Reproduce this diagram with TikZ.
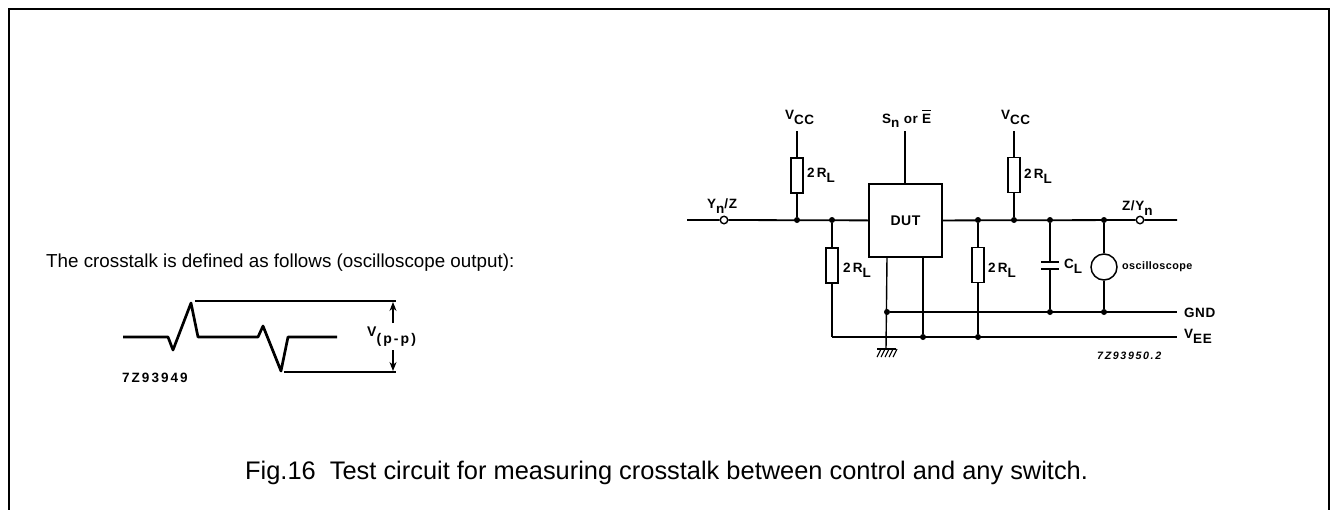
\documentclass[tikz,border=0pt]{standalone}
\usepackage{fontspec}
\setmainfont{Liberation Sans}
\newfontfamily\wide[LetterSpace=4]{Liberation Sans}
\newfontfamily\wider[LetterSpace=15]{Liberation Sans}
\usetikzlibrary{arrows.meta}
\newcommand{\lo}[1]{\raisebox{-5pt}{#1}}
\tikzset{
  x=1pt,y=-1pt,
  wire/.style={line width=1.5pt,black},
  thin wire/.style={line width=1.4pt,black},
  res/.style={draw,line width=1.4pt,fill=white,minimum width=12pt,minimum height=35pt,inner sep=0pt,outer sep=0pt},
  dut/.style={draw,line width=2pt,minimum width=73pt,minimum height=73pt,inner sep=0pt,outer sep=0pt},
  dot/.style={circle,fill=black,inner sep=0pt,minimum size=6pt},
  open/.style={circle,draw,line width=1.4pt,fill=white,inner sep=0pt,minimum size=7.5pt},
  scope/.style={circle,draw,line width=1.5pt,fill=white,inner sep=0pt,minimum size=26pt},
  lab/.style={inner sep=0pt,anchor=base west,font=\fontsize{13.5}{15}\wide\bfseries},
  rail/.style={line width=1.8pt,black},
  wave/.style={line width=2.7pt,black,line join=round},
  tip/.style={-{Stealth[length=9pt,width=7pt]},line width=1.2pt},
}
\begin{document}
\begin{tikzpicture}
\useasboundingbox (0,0) rectangle (1330,509);
\draw[line width=2pt] (9,510) -- (9,9) -- (1329,9) -- (1329,510);
% left text
\node[anchor=base west,inner sep=0pt,font=\fontsize{18.8}{22}\selectfont] (deftxt) at (46,267) {The crosstalk is defined as follows (oscilloscope output):};
\node[anchor=base west,inner sep=0pt,font=\fontsize{25.4}{30}\selectfont] (cap) at (245,479) {Fig.16\ \ Test circuit for measuring crosstalk between control and any switch.};
% waveform
\coordinate (w0) at (123,337); \coordinate (w1) at (168,337); \coordinate (w2) at (173,350);
\coordinate (w3) at (191,303); \coordinate (w4) at (198,337); \coordinate (w5) at (258,337);
\coordinate (w6) at (263,326); \coordinate (w7) at (281,371); \coordinate (w8) at (288,337);
\coordinate (w9) at (337,337);
\draw[wave] (w0)--(w1)--(w2)--(w3)--(w4)--(w5)--(w6)--(w7)--(w8)--(w9);
\coordinate (ta) at (195,301); \coordinate (tb) at (396,301);
\coordinate (ba) at (284,372); \coordinate (bb) at (396,372);
\draw[rail] (ta)--(tb);
\draw[rail] (ba)--(bb);
\coordinate (at) at (393,323); \coordinate (ah) at (393,302);
\coordinate (bt) at (393,350); \coordinate (bh) at (393,371);
\draw[tip] (at)--(ah);
\draw[tip] (bt)--(bh);
\node[lab,font=\fontsize{14}{16}\wider\bfseries] (vpp) at (367,336) {V\raisebox{-7pt}{(p-p)}};
\node[lab,font=\fontsize{13.5}{15}\wider\bfseries] (code1) at (122,382) {7Z93949};
% circuit
\coordinate (inL) at (687,220);
\node[open] (inO) at (724,220) {};
\node[dot] (j1) at (797,220) {};
\node[dot] (j2) at (832,220) {};
\node[dut] (D) at (905.5,220.5) {\fontsize{14}{16}\wide\bfseries DUT};
\node[dot] (j3) at (978,220) {};
\node[dot] (j4) at (1014,220) {};
\node[dot] (j5) at (1050,220) {};
\node[dot] (j6) at (1104,220) {};
\node[open] (outO) at (1140,220) {};
\coordinate (outR) at (1177,220);
\node[res] (R1) at (797,175.5) {};
\node[res] (R2) at (832,265.5) {};
\node[res] (R3) at (978,265) {};
\node[res] (R4) at (1014,175) {};
\coordinate (v1) at (797,131);
\coordinate (v2) at (1014,131);
\coordinate (sT) at (905,131);
\coordinate (c1) at (1050,262); \coordinate (c1a) at (1041,262); \coordinate (c1b) at (1059,262);
\coordinate (c2) at (1050,269); \coordinate (c2a) at (1041,269); \coordinate (c2b) at (1059,269);
\node[scope] (S) at (1104,267) {};
% rails
\node[dot] (g1) at (887,312) {};
\node[dot] (g2) at (1050,312) {};
\node[dot] (g3) at (1104,312) {};
\coordinate (gR) at (1177,312);
\coordinate (eL) at (832,337);
\node[dot] (e1) at (923,337) {};
\node[dot] (e2) at (978,337) {};
\coordinate (eR) at (1177,337);
\coordinate (gnd) at (886,349);
\draw[rail] (inL)--(inO) (inO)--(D) (D)--(outO) (outO)--(outR);
\draw[rail] (g1)--(gR);
\draw[rail] (eL)--(eR);
\draw[thin wire] (v1)--(R1.north) (R1.south)--(j1);
\draw[thin wire] (v2)--(R4.north) (R4.south)--(j4);
\draw[thin wire] (sT)--(sT|-D.north);
\draw[thin wire] (j2)--(R2.north) (R2.south)--(eL);
\draw[thin wire] (j3)--(R3.north) (R3.south)--(e2);
\draw[thin wire] (j5)--(c1) (c2)--(g2);
\draw[line width=2pt] (c1a)--(c1b) (c2a)--(c2b);
\draw[thin wire] (j6)--(S.north) (S.south)--(g3);
\draw[thin wire] (g1|-D.south)--(gnd);
\draw[thin wire] (e1|-D.south)--(e1);
% ground
\coordinate (h1) at (877,349); \coordinate (h2) at (896,349);
\draw[line width=1.8pt] (h1)--(h2);
\foreach \q in {881,885,889,893,897}{\draw[line width=1.1pt] (\q,349)--(\q-4,357);}
% labels
\node[lab] (lv1) at (785,119) {V\lo{CC}};
\node[lab] (lv2) at (1001,119) {V\lo{CC}};
\node[lab] (ls) at (882,123) {S\raisebox{-4pt}{n} or \rlap{\raisebox{12pt}{\rule{8.5pt}{1.2pt}}}E};
\node[lab] (r1l) at (807,177) {2\,R\lo{L}};
\node[lab] (r2l) at (843,272) {2\,R\lo{L}};
\node[lab] (r3l) at (988,272) {2\,R\lo{L}};
\node[lab] (r4l) at (1024,178) {2\,R\lo{L}};
\node[lab] (inl) at (707,208) {Y\lo{n}/Z};
\node[lab] (outl) at (1122,210) {Z/Y\lo{n}};
\node[lab] (cl) at (1064,268) {C\lo{L}};
\node[lab,font=\fontsize{10.8}{12}\wide\bfseries] (sl) at (1122,269) {oscilloscope};
\node[lab] (gl) at (1184,317) {GND};
\node[lab] (vl) at (1184,338) {V\lo{EE}};
\node[lab,font=\fontsize{10.7}{13}\wider\bfseries\itshape] (code2) at (1097,359) {7Z93950.2};
\end{tikzpicture}
\end{document}
